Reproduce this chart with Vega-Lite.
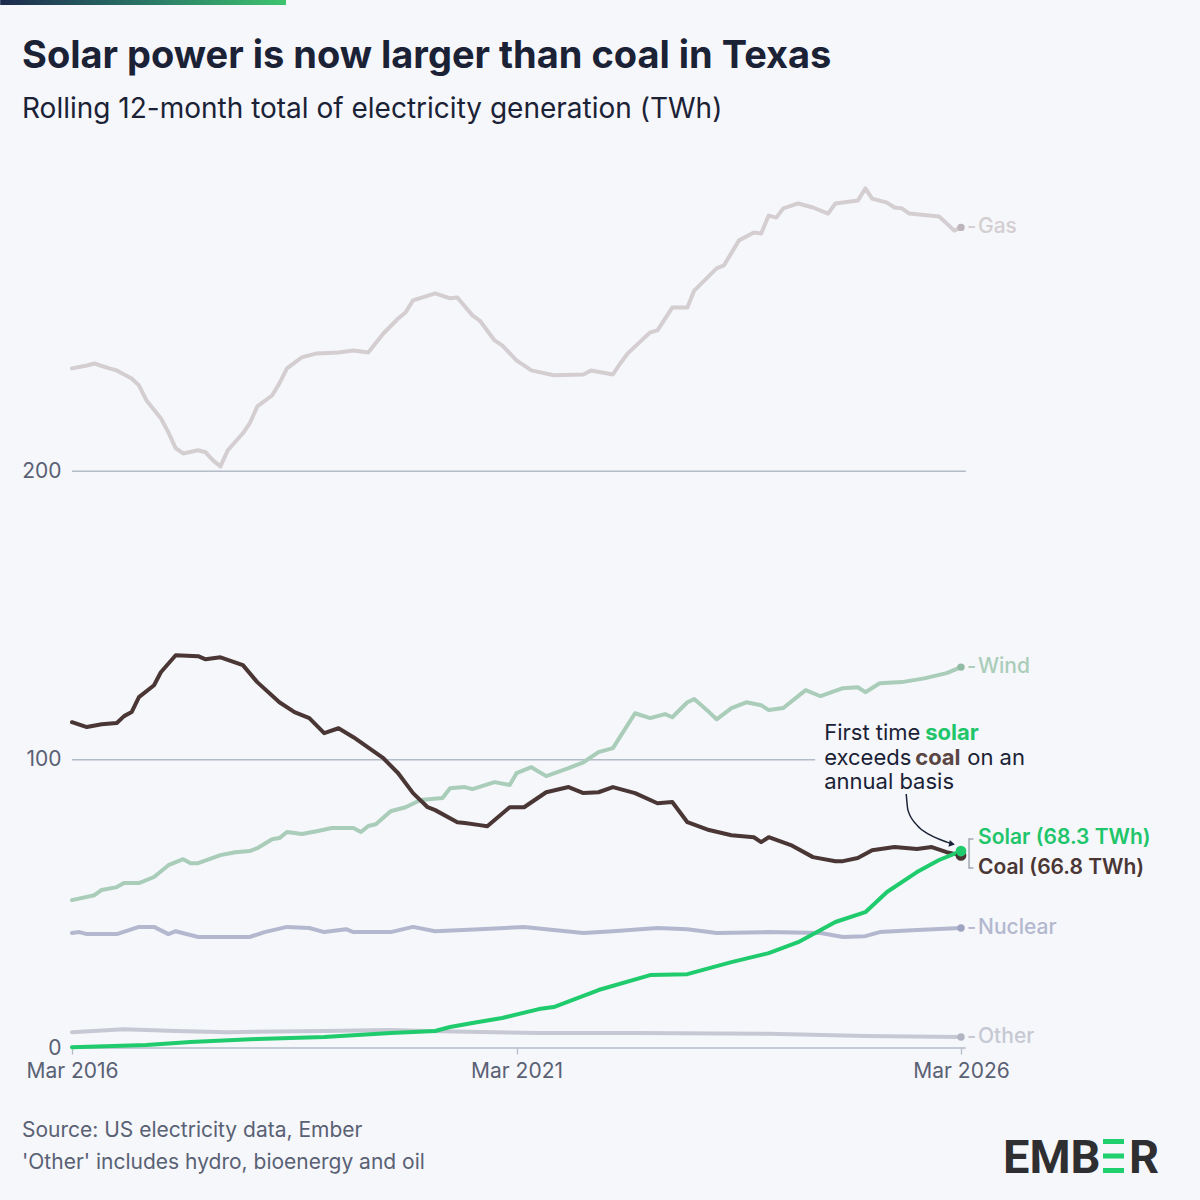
{
  "$schema": "https://vega.github.io/schema/vega-lite/v6.json",
  "width": 889,
  "height": 865,
  "autosize": {"type": "none"},
  "padding": {"left": 72, "top": 183, "right": 239, "bottom": 152},
  "background": "#f5f7fb",
  "config": {"view": {"stroke": null}, "font": "Inter"},
  "datasets": {
    "gen": [
      {"s": "Gas", "d": "2016-03-01", "v": 235.7}, {"s": "Gas", "d": "2016-05-01", "v": 236.7}, {"s": "Gas", "d": "2016-06-01", "v": 237.4},
      {"s": "Gas", "d": "2016-08-01", "v": 235.7}, {"s": "Gas", "d": "2016-09-01", "v": 235.0}, {"s": "Gas", "d": "2016-11-01", "v": 232.2},
      {"s": "Gas", "d": "2016-12-01", "v": 229.8}, {"s": "Gas", "d": "2017-01-01", "v": 224.6}, {"s": "Gas", "d": "2017-03-01", "v": 218.4},
      {"s": "Gas", "d": "2017-04-01", "v": 213.5}, {"s": "Gas", "d": "2017-05-01", "v": 208.0}, {"s": "Gas", "d": "2017-06-01", "v": 206.2},
      {"s": "Gas", "d": "2017-08-01", "v": 207.3}, {"s": "Gas", "d": "2017-09-01", "v": 206.6}, {"s": "Gas", "d": "2017-10-01", "v": 203.8},
      {"s": "Gas", "d": "2017-11-01", "v": 201.7}, {"s": "Gas", "d": "2017-12-01", "v": 207.3}, {"s": "Gas", "d": "2018-02-01", "v": 213.2},
      {"s": "Gas", "d": "2018-03-01", "v": 216.6}, {"s": "Gas", "d": "2018-04-01", "v": 222.5}, {"s": "Gas", "d": "2018-06-01", "v": 226.3},
      {"s": "Gas", "d": "2018-07-01", "v": 230.5}, {"s": "Gas", "d": "2018-08-01", "v": 235.7}, {"s": "Gas", "d": "2018-10-01", "v": 239.5},
      {"s": "Gas", "d": "2018-12-01", "v": 240.9}, {"s": "Gas", "d": "2019-03-01", "v": 241.2}, {"s": "Gas", "d": "2019-05-01", "v": 241.9},
      {"s": "Gas", "d": "2019-07-01", "v": 241.2}, {"s": "Gas", "d": "2019-09-01", "v": 247.8}, {"s": "Gas", "d": "2019-11-01", "v": 253.0},
      {"s": "Gas", "d": "2019-12-01", "v": 255.1}, {"s": "Gas", "d": "2020-01-01", "v": 259.3}, {"s": "Gas", "d": "2020-04-01", "v": 261.7},
      {"s": "Gas", "d": "2020-06-01", "v": 260.0}, {"s": "Gas", "d": "2020-07-01", "v": 260.3}, {"s": "Gas", "d": "2020-09-01", "v": 254.1},
      {"s": "Gas", "d": "2020-10-01", "v": 252.3}, {"s": "Gas", "d": "2020-12-01", "v": 245.4}, {"s": "Gas", "d": "2021-01-01", "v": 243.7},
      {"s": "Gas", "d": "2021-03-01", "v": 238.5}, {"s": "Gas", "d": "2021-05-01", "v": 235.0}, {"s": "Gas", "d": "2021-08-01", "v": 233.3},
      {"s": "Gas", "d": "2021-12-01", "v": 233.6}, {"s": "Gas", "d": "2022-01-01", "v": 235.0}, {"s": "Gas", "d": "2022-04-01", "v": 233.6},
      {"s": "Gas", "d": "2022-05-01", "v": 237.4}, {"s": "Gas", "d": "2022-06-01", "v": 240.9}, {"s": "Gas", "d": "2022-09-01", "v": 248.2},
      {"s": "Gas", "d": "2022-10-01", "v": 248.9}, {"s": "Gas", "d": "2022-12-01", "v": 256.8}, {"s": "Gas", "d": "2023-02-01", "v": 256.8},
      {"s": "Gas", "d": "2023-03-01", "v": 262.7}, {"s": "Gas", "d": "2023-06-01", "v": 270.4}, {"s": "Gas", "d": "2023-07-01", "v": 271.4},
      {"s": "Gas", "d": "2023-09-01", "v": 280.1}, {"s": "Gas", "d": "2023-11-01", "v": 282.8}, {"s": "Gas", "d": "2023-12-01", "v": 282.5},
      {"s": "Gas", "d": "2024-01-01", "v": 288.7}, {"s": "Gas", "d": "2024-02-01", "v": 288.0}, {"s": "Gas", "d": "2024-03-01", "v": 291.2},
      {"s": "Gas", "d": "2024-05-01", "v": 292.9}, {"s": "Gas", "d": "2024-07-01", "v": 291.5}, {"s": "Gas", "d": "2024-09-01", "v": 289.4},
      {"s": "Gas", "d": "2024-10-01", "v": 292.9}, {"s": "Gas", "d": "2025-01-01", "v": 293.9}, {"s": "Gas", "d": "2025-02-01", "v": 298.1},
      {"s": "Gas", "d": "2025-03-01", "v": 294.6}, {"s": "Gas", "d": "2025-05-01", "v": 293.2}, {"s": "Gas", "d": "2025-06-01", "v": 291.5},
      {"s": "Gas", "d": "2025-07-01", "v": 291.2}, {"s": "Gas", "d": "2025-08-01", "v": 289.4}, {"s": "Gas", "d": "2025-12-01", "v": 288.4},
      {"s": "Gas", "d": "2026-01-01", "v": 286.0}, {"s": "Gas", "d": "2026-02-01", "v": 283.5}, {"s": "Gas", "d": "2026-03-01", "v": 284.6},

      {"s": "Wind", "d": "2016-03-01", "v": 51.3}, {"s": "Wind", "d": "2016-06-01", "v": 53.0}, {"s": "Wind", "d": "2016-07-01", "v": 54.8},
      {"s": "Wind", "d": "2016-09-01", "v": 55.8}, {"s": "Wind", "d": "2016-10-01", "v": 57.2}, {"s": "Wind", "d": "2016-12-01", "v": 57.2},
      {"s": "Wind", "d": "2017-02-01", "v": 59.3}, {"s": "Wind", "d": "2017-04-01", "v": 63.4}, {"s": "Wind", "d": "2017-06-01", "v": 65.5},
      {"s": "Wind", "d": "2017-07-01", "v": 64.1}, {"s": "Wind", "d": "2017-08-01", "v": 64.1}, {"s": "Wind", "d": "2017-11-01", "v": 66.9},
      {"s": "Wind", "d": "2018-01-01", "v": 67.9}, {"s": "Wind", "d": "2018-03-01", "v": 68.3}, {"s": "Wind", "d": "2018-04-01", "v": 69.3},
      {"s": "Wind", "d": "2018-06-01", "v": 72.4}, {"s": "Wind", "d": "2018-07-01", "v": 72.8}, {"s": "Wind", "d": "2018-08-01", "v": 74.9},
      {"s": "Wind", "d": "2018-10-01", "v": 74.2}, {"s": "Wind", "d": "2018-12-01", "v": 75.2}, {"s": "Wind", "d": "2019-02-01", "v": 76.3},
      {"s": "Wind", "d": "2019-05-01", "v": 76.3}, {"s": "Wind", "d": "2019-06-01", "v": 74.9}, {"s": "Wind", "d": "2019-07-01", "v": 77.0},
      {"s": "Wind", "d": "2019-08-01", "v": 77.6}, {"s": "Wind", "d": "2019-10-01", "v": 82.1}, {"s": "Wind", "d": "2019-12-01", "v": 83.5},
      {"s": "Wind", "d": "2020-02-01", "v": 86.0}, {"s": "Wind", "d": "2020-05-01", "v": 86.7}, {"s": "Wind", "d": "2020-06-01", "v": 90.1},
      {"s": "Wind", "d": "2020-08-01", "v": 90.5}, {"s": "Wind", "d": "2020-09-01", "v": 89.8}, {"s": "Wind", "d": "2020-12-01", "v": 92.2},
      {"s": "Wind", "d": "2021-02-01", "v": 91.2}, {"s": "Wind", "d": "2021-03-01", "v": 95.3}, {"s": "Wind", "d": "2021-05-01", "v": 97.4},
      {"s": "Wind", "d": "2021-07-01", "v": 94.3}, {"s": "Wind", "d": "2021-10-01", "v": 97.1}, {"s": "Wind", "d": "2021-12-01", "v": 99.1},
      {"s": "Wind", "d": "2022-02-01", "v": 102.6}, {"s": "Wind", "d": "2022-04-01", "v": 104.0}, {"s": "Wind", "d": "2022-07-01", "v": 116.1},
      {"s": "Wind", "d": "2022-09-01", "v": 114.4}, {"s": "Wind", "d": "2022-11-01", "v": 115.8}, {"s": "Wind", "d": "2022-12-01", "v": 114.7},
      {"s": "Wind", "d": "2023-02-01", "v": 119.9}, {"s": "Wind", "d": "2023-03-01", "v": 121.0}, {"s": "Wind", "d": "2023-05-01", "v": 116.5},
      {"s": "Wind", "d": "2023-06-01", "v": 114.0}, {"s": "Wind", "d": "2023-08-01", "v": 117.9}, {"s": "Wind", "d": "2023-10-01", "v": 119.9},
      {"s": "Wind", "d": "2023-12-01", "v": 118.9}, {"s": "Wind", "d": "2024-01-01", "v": 117.2}, {"s": "Wind", "d": "2024-03-01", "v": 117.9},
      {"s": "Wind", "d": "2024-06-01", "v": 124.1}, {"s": "Wind", "d": "2024-08-01", "v": 122.0}, {"s": "Wind", "d": "2024-11-01", "v": 124.8},
      {"s": "Wind", "d": "2025-01-01", "v": 125.1}, {"s": "Wind", "d": "2025-02-01", "v": 123.4}, {"s": "Wind", "d": "2025-04-01", "v": 126.5},
      {"s": "Wind", "d": "2025-07-01", "v": 126.9}, {"s": "Wind", "d": "2025-10-01", "v": 128.2}, {"s": "Wind", "d": "2026-01-01", "v": 130.0},
      {"s": "Wind", "d": "2026-03-01", "v": 132.1},

      {"s": "Nuclear", "d": "2016-03-01", "v": 39.9}, {"s": "Nuclear", "d": "2016-04-01", "v": 40.2}, {"s": "Nuclear", "d": "2016-05-01", "v": 39.5},
      {"s": "Nuclear", "d": "2016-09-01", "v": 39.5}, {"s": "Nuclear", "d": "2016-12-01", "v": 42.0}, {"s": "Nuclear", "d": "2017-02-01", "v": 42.0},
      {"s": "Nuclear", "d": "2017-04-01", "v": 39.5}, {"s": "Nuclear", "d": "2017-05-01", "v": 40.5}, {"s": "Nuclear", "d": "2017-08-01", "v": 38.5},
      {"s": "Nuclear", "d": "2018-03-01", "v": 38.5}, {"s": "Nuclear", "d": "2018-05-01", "v": 40.2}, {"s": "Nuclear", "d": "2018-08-01", "v": 42.0},
      {"s": "Nuclear", "d": "2018-11-01", "v": 41.6}, {"s": "Nuclear", "d": "2019-01-01", "v": 40.2}, {"s": "Nuclear", "d": "2019-04-01", "v": 41.2},
      {"s": "Nuclear", "d": "2019-05-01", "v": 40.2}, {"s": "Nuclear", "d": "2019-10-01", "v": 40.2}, {"s": "Nuclear", "d": "2020-01-01", "v": 42.0},
      {"s": "Nuclear", "d": "2020-04-01", "v": 40.5}, {"s": "Nuclear", "d": "2020-10-01", "v": 41.2}, {"s": "Nuclear", "d": "2021-04-01", "v": 42.0},
      {"s": "Nuclear", "d": "2021-07-01", "v": 41.2}, {"s": "Nuclear", "d": "2021-12-01", "v": 39.9}, {"s": "Nuclear", "d": "2022-04-01", "v": 40.5},
      {"s": "Nuclear", "d": "2022-10-01", "v": 41.6}, {"s": "Nuclear", "d": "2023-02-01", "v": 41.2}, {"s": "Nuclear", "d": "2023-06-01", "v": 39.9},
      {"s": "Nuclear", "d": "2024-01-01", "v": 40.2}, {"s": "Nuclear", "d": "2024-08-01", "v": 39.9}, {"s": "Nuclear", "d": "2024-11-01", "v": 38.5},
      {"s": "Nuclear", "d": "2025-02-01", "v": 38.8}, {"s": "Nuclear", "d": "2025-04-01", "v": 40.2}, {"s": "Nuclear", "d": "2025-09-01", "v": 40.9},
      {"s": "Nuclear", "d": "2026-03-01", "v": 41.6},

      {"s": "Other", "d": "2016-03-01", "v": 5.5}, {"s": "Other", "d": "2016-10-01", "v": 6.5}, {"s": "Other", "d": "2017-05-01", "v": 5.9},
      {"s": "Other", "d": "2017-12-01", "v": 5.5}, {"s": "Other", "d": "2019-01-01", "v": 5.9}, {"s": "Other", "d": "2019-10-01", "v": 6.2},
      {"s": "Other", "d": "2020-03-01", "v": 5.9}, {"s": "Other", "d": "2020-12-01", "v": 5.5}, {"s": "Other", "d": "2021-06-01", "v": 5.2},
      {"s": "Other", "d": "2022-07-01", "v": 5.2}, {"s": "Other", "d": "2024-01-01", "v": 4.9}, {"s": "Other", "d": "2025-02-01", "v": 4.2},
      {"s": "Other", "d": "2026-03-01", "v": 3.8},

      {"s": "Coal", "d": "2016-03-01", "v": 113.0}, {"s": "Coal", "d": "2016-05-01", "v": 111.3}, {"s": "Coal", "d": "2016-07-01", "v": 112.3},
      {"s": "Coal", "d": "2016-09-01", "v": 112.7}, {"s": "Coal", "d": "2016-10-01", "v": 115.1}, {"s": "Coal", "d": "2016-11-01", "v": 116.5},
      {"s": "Coal", "d": "2016-12-01", "v": 121.7}, {"s": "Coal", "d": "2017-02-01", "v": 125.8}, {"s": "Coal", "d": "2017-03-01", "v": 130.3},
      {"s": "Coal", "d": "2017-05-01", "v": 136.2}, {"s": "Coal", "d": "2017-08-01", "v": 135.9}, {"s": "Coal", "d": "2017-09-01", "v": 134.8},
      {"s": "Coal", "d": "2017-11-01", "v": 135.5}, {"s": "Coal", "d": "2018-02-01", "v": 132.8}, {"s": "Coal", "d": "2018-04-01", "v": 126.9},
      {"s": "Coal", "d": "2018-07-01", "v": 119.9}, {"s": "Coal", "d": "2018-09-01", "v": 116.5}, {"s": "Coal", "d": "2018-11-01", "v": 114.4},
      {"s": "Coal", "d": "2019-01-01", "v": 109.2}, {"s": "Coal", "d": "2019-03-01", "v": 110.9}, {"s": "Coal", "d": "2019-05-01", "v": 107.8},
      {"s": "Coal", "d": "2019-09-01", "v": 100.5}, {"s": "Coal", "d": "2019-11-01", "v": 95.3}, {"s": "Coal", "d": "2020-01-01", "v": 88.4},
      {"s": "Coal", "d": "2020-03-01", "v": 83.5}, {"s": "Coal", "d": "2020-04-01", "v": 82.5}, {"s": "Coal", "d": "2020-07-01", "v": 78.3},
      {"s": "Coal", "d": "2020-08-01", "v": 78.0}, {"s": "Coal", "d": "2020-10-01", "v": 77.3}, {"s": "Coal", "d": "2020-11-01", "v": 76.9},
      {"s": "Coal", "d": "2021-02-01", "v": 83.5}, {"s": "Coal", "d": "2021-04-01", "v": 83.5}, {"s": "Coal", "d": "2021-07-01", "v": 88.7},
      {"s": "Coal", "d": "2021-10-01", "v": 90.5}, {"s": "Coal", "d": "2021-12-01", "v": 88.4}, {"s": "Coal", "d": "2022-02-01", "v": 88.7},
      {"s": "Coal", "d": "2022-04-01", "v": 90.5}, {"s": "Coal", "d": "2022-07-01", "v": 88.4}, {"s": "Coal", "d": "2022-10-01", "v": 84.9},
      {"s": "Coal", "d": "2022-12-01", "v": 85.3}, {"s": "Coal", "d": "2023-02-01", "v": 78.3}, {"s": "Coal", "d": "2023-05-01", "v": 75.6},
      {"s": "Coal", "d": "2023-08-01", "v": 73.8}, {"s": "Coal", "d": "2023-11-01", "v": 73.1}, {"s": "Coal", "d": "2023-12-01", "v": 71.4},
      {"s": "Coal", "d": "2024-01-01", "v": 73.1}, {"s": "Coal", "d": "2024-04-01", "v": 70.4}, {"s": "Coal", "d": "2024-07-01", "v": 66.2},
      {"s": "Coal", "d": "2024-10-01", "v": 64.8}, {"s": "Coal", "d": "2024-11-01", "v": 64.8}, {"s": "Coal", "d": "2025-01-01", "v": 65.9},
      {"s": "Coal", "d": "2025-03-01", "v": 68.6}, {"s": "Coal", "d": "2025-06-01", "v": 69.7}, {"s": "Coal", "d": "2025-09-01", "v": 69.0},
      {"s": "Coal", "d": "2025-11-01", "v": 69.7}, {"s": "Coal", "d": "2026-01-01", "v": 67.9}, {"s": "Coal", "d": "2026-03-01", "v": 66.8},

      {"s": "Solar", "d": "2016-03-01", "v": 0.3}, {"s": "Solar", "d": "2017-01-01", "v": 1.0}, {"s": "Solar", "d": "2017-07-01", "v": 2.1},
      {"s": "Solar", "d": "2018-04-01", "v": 3.1}, {"s": "Solar", "d": "2019-01-01", "v": 3.8}, {"s": "Solar", "d": "2019-10-01", "v": 5.2},
      {"s": "Solar", "d": "2020-04-01", "v": 5.9}, {"s": "Solar", "d": "2020-06-01", "v": 7.3}, {"s": "Solar", "d": "2020-09-01", "v": 8.7},
      {"s": "Solar", "d": "2021-01-01", "v": 10.4}, {"s": "Solar", "d": "2021-06-01", "v": 13.5}, {"s": "Solar", "d": "2021-08-01", "v": 14.2},
      {"s": "Solar", "d": "2022-02-01", "v": 20.1}, {"s": "Solar", "d": "2022-09-01", "v": 25.3}, {"s": "Solar", "d": "2023-02-01", "v": 25.6},
      {"s": "Solar", "d": "2023-08-01", "v": 29.8}, {"s": "Solar", "d": "2024-01-01", "v": 32.9}, {"s": "Solar", "d": "2024-05-01", "v": 36.7},
      {"s": "Solar", "d": "2024-10-01", "v": 43.7}, {"s": "Solar", "d": "2025-02-01", "v": 47.1}, {"s": "Solar", "d": "2025-05-01", "v": 54.1},
      {"s": "Solar", "d": "2025-09-01", "v": 61.0}, {"s": "Solar", "d": "2025-12-01", "v": 65.2}, {"s": "Solar", "d": "2026-03-01", "v": 68.3}
    ],
    "arrow": [
      {"i": 0, "d": "2025-07-19", "v": 88.1},
      {"i": 1, "d": "2025-07-26", "v": 82.5},
      {"i": 2, "d": "2025-09-01", "v": 77.3},
      {"i": 3, "d": "2025-10-25", "v": 73.9},
      {"i": 4, "d": "2026-01-02", "v": 71.4},
      {"i": 5, "d": "2026-01-19", "v": 70.9}
    ],
    "bracket": [
      {"i": 0, "d": "2026-04-21", "v": 72.5},
      {"i": 1, "d": "2026-04-03", "v": 72.5},
      {"i": 2, "d": "2026-04-03", "v": 62.4},
      {"i": 3, "d": "2026-04-21", "v": 62.4}
    ],
    "grid": [{"v": 0}, {"v": 200}]
  },
  "layer": [
    {
      "data": {"name": "grid"},
      "mark": {"type": "rule", "color": "#b4bcc8", "strokeWidth": 1.5},
      "encoding": {
        "x": {
          "datum": {"year": 2016, "month": 3, "date": 1, "utc": true},
          "type": "temporal",
          "scale": {
            "type": "utc",
            "domain": [{"year": 2016, "month": 3, "date": 1, "utc": true}, {"year": 2026, "month": 3, "date": 1, "utc": true}]
          },
          "axis": {
            "title": null,
            "values": [
              {"year": 2016, "month": 3, "date": 1, "utc": true},
              {"year": 2021, "month": 3, "date": 1, "utc": true},
              {"year": 2026, "month": 3, "date": 1, "utc": true}
            ],
            "format": "%b %Y",
            "grid": false,
            "domain": false,
            "ticks": true,
            "tickSize": 6,
            "tickWidth": 1.3,
            "tickColor": "#b4bcc8",
            "labelFont": "Inter",
            "labelFontSize": 21,
            "labelColor": "#5a6174",
            "labelPadding": 6,
            "labelFlush": false
          }
        },
        "x2": {"datum": {"year": 2026, "month": 3, "date": 21, "utc": true}},
        "y": {
          "field": "v",
          "type": "quantitative",
          "scale": {"domain": [0, 300], "nice": false},
          "axis": {
            "title": null,
            "values": [0, 100, 200],
            "grid": false,
            "domain": false,
            "ticks": false,
            "labelFont": "Inter",
            "labelFontSize": 21,
            "labelColor": "#5a6174",
            "labelPadding": 11
          }
        }
      }
    },
    {
      "data": {"values": [{}]},
      "mark": {"type": "rule", "color": "#b4bcc8", "strokeWidth": 1.5},
      "encoding": {
        "x": {"datum": {"year": 2016, "month": 3, "date": 1, "utc": true}, "type": "temporal"},
        "x2": {"datum": {"year": 2024, "month": 7, "date": 10, "utc": true}},
        "y": {"datum": 100, "type": "quantitative"}
      }
    },
    {
      "data": {"values": [{}]},
      "mark": {
        "type": "rect",
        "color": {
          "gradient": "linear", "x1": 0, "y1": 0, "x2": 1, "y2": 0,
          "stops": [{"offset": 0, "color": "#1c2a4e"}, {"offset": 0.5, "color": "#2a7566"}, {"offset": 1, "color": "#3dc46e"}]
        }
      },
      "encoding": {
        "x": {"datum": {"year": 2015, "month": 5, "date": 11, "utc": true}, "type": "temporal"},
        "x2": {"datum": {"year": 2018, "month": 7, "date": 28, "utc": true}},
        "y": {"datum": 363.5, "type": "quantitative"},
        "y2": {"datum": 361.7}
      }
    },
    {
      "data": {"values": [{}]},
      "mark": {"type": "text", "text": "Solar power is now larger than coal in Texas", "align": "left", "baseline": "alphabetic", "dx": -50, "dy": -115, "fontSize": 38, "font": "Inter", "fontWeight": 700, "color": "#1b2236"},
      "encoding": {
        "x": {"datum": {"year": 2016, "month": 3, "date": 1, "utc": true}, "type": "temporal"},
        "y": {"datum": 300, "type": "quantitative"}
      }
    },
    {
      "data": {"values": [{}]},
      "mark": {"type": "text", "text": "Rolling 12-month total of electricity generation (TWh)", "align": "left", "baseline": "alphabetic", "dx": -50, "dy": -65, "fontSize": 28, "font": "Inter", "color": "#1b2236"},
      "encoding": {
        "x": {"datum": {"year": 2016, "month": 3, "date": 1, "utc": true}, "type": "temporal"},
        "y": {"datum": 300, "type": "quantitative"}
      }
    },
    {
      "data": {"name": "gen"},
      "transform": [{"filter": "indexof(['Gas','Wind','Nuclear','Other'], datum.s) >= 0"}],
      "mark": {"type": "line", "strokeWidth": 4, "strokeJoin": "round", "strokeCap": "round"},
      "encoding": {
        "x": {"field": "d", "type": "temporal"},
        "y": {"field": "v", "type": "quantitative"},
        "color": {
          "field": "s",
          "type": "nominal",
          "legend": null,
          "scale": {
            "domain": ["Gas", "Wind", "Nuclear", "Other", "Coal", "Solar"],
            "range": ["#d4ced1", "#a9cdb9", "#b3b8cf", "#c6c9d3", "#4a3634", "#1fcb6c"]
          }
        }
      }
    },
    {
      "data": {"name": "gen"},
      "transform": [{"filter": "datum.s == 'Coal'"}],
      "mark": {"type": "line", "strokeWidth": 4, "strokeJoin": "round", "strokeCap": "round"},
      "encoding": {
        "x": {"field": "d", "type": "temporal"},
        "y": {"field": "v", "type": "quantitative"},
        "color": {"field": "s", "type": "nominal", "legend": null}
      }
    },
    {
      "data": {"name": "gen"},
      "transform": [{"filter": "datum.s == 'Solar'"}],
      "mark": {"type": "line", "strokeWidth": 4, "strokeJoin": "round", "strokeCap": "round"},
      "encoding": {
        "x": {"field": "d", "type": "temporal"},
        "y": {"field": "v", "type": "quantitative"},
        "color": {"field": "s", "type": "nominal", "legend": null}
      }
    },
    {
      "data": {"name": "gen"},
      "transform": [
        {"filter": "utcyear(datum.d) == 2026 && utcmonth(datum.d) == 2"},
        {"filter": "indexof(['Gas','Wind','Nuclear','Other'], datum.s) >= 0"}
      ],
      "mark": {"type": "point", "filled": true, "size": 55, "opacity": 1, "strokeWidth": 0},
      "encoding": {
        "x": {"field": "d", "type": "temporal"},
        "y": {"field": "v", "type": "quantitative"},
        "fill": {
          "field": "s",
          "type": "nominal",
          "legend": null,
          "scale": {
            "domain": ["Gas", "Wind", "Nuclear", "Other", "Coal", "Solar"],
            "range": ["#bdb5b9", "#91bba4", "#9ea5c1", "#b2b5c1", "#4a3634", "#1fcb6c"]
          }
        }
      }
    },
    {
      "data": {"name": "gen"},
      "transform": [
        {"filter": "utcyear(datum.d) == 2026 && utcmonth(datum.d) == 2"},
        {"filter": "indexof(['Gas','Wind','Nuclear','Other'], datum.s) >= 0"}
      ],
      "mark": {"type": "text", "text": "-", "align": "left", "baseline": "middle", "dx": 6, "fontSize": 20, "font": "Inter", "fontWeight": 500},
      "encoding": {
        "x": {"field": "d", "type": "temporal"},
        "y": {"field": "v", "type": "quantitative"},
        "color": {"field": "s", "type": "nominal", "legend": null}
      }
    },
    {
      "data": {"name": "gen"},
      "transform": [
        {"filter": "utcyear(datum.d) == 2026 && utcmonth(datum.d) == 2"},
        {"filter": "indexof(['Gas','Wind','Nuclear','Other'], datum.s) >= 0"}
      ],
      "mark": {"type": "text", "align": "left", "baseline": "middle", "dx": 17, "fontSize": 21, "font": "Inter", "fontWeight": 500},
      "encoding": {
        "x": {"field": "d", "type": "temporal"},
        "y": {"field": "v", "type": "quantitative"},
        "text": {"field": "s"},
        "color": {"field": "s", "type": "nominal", "legend": null}
      }
    },
    {
      "data": {"name": "gen"},
      "transform": [
        {"filter": "utcyear(datum.d) == 2026 && utcmonth(datum.d) == 2"},
        {"filter": "datum.s == 'Coal' || datum.s == 'Solar'"}
      ],
      "mark": {"type": "point", "filled": true, "size": 115, "opacity": 1, "strokeWidth": 0},
      "encoding": {
        "x": {"field": "d", "type": "temporal"},
        "y": {"field": "v", "type": "quantitative"},
        "fill": {"field": "s", "type": "nominal", "legend": null}
      }
    },
    {
      "data": {"name": "bracket"},
      "mark": {"type": "line", "color": "#a2a7b2", "strokeWidth": 1.5},
      "encoding": {
        "x": {"field": "d", "type": "temporal"},
        "y": {"field": "v", "type": "quantitative"},
        "order": {"field": "i"}
      }
    },
    {
      "data": {"values": [{}]},
      "mark": {"type": "text", "text": "Solar (68.3 TWh)", "align": "left", "baseline": "middle", "dx": 17, "fontSize": 21, "font": "Inter", "fontWeight": 600, "color": "#1fc56a"},
      "encoding": {
        "x": {"datum": {"year": 2026, "month": 3, "date": 1, "utc": true}, "type": "temporal"},
        "y": {"datum": 72.8, "type": "quantitative"}
      }
    },
    {
      "data": {"values": [{}]},
      "mark": {"type": "text", "text": "Coal (66.8 TWh)", "align": "left", "baseline": "middle", "dx": 17, "fontSize": 21, "font": "Inter", "fontWeight": 600, "color": "#4a3634"},
      "encoding": {
        "x": {"datum": {"year": 2026, "month": 3, "date": 1, "utc": true}, "type": "temporal"},
        "y": {"datum": 62.4, "type": "quantitative"}
      }
    },
    {
      "data": {"values": [{}]},
      "mark": {"type": "text", "text": "First time", "align": "left", "baseline": "middle", "fontSize": 22, "font": "Inter", "color": "#1b2236"},
      "encoding": {
        "x": {"datum": {"year": 2024, "month": 8, "date": 16, "utc": true}, "type": "temporal"},
        "y": {"datum": 109.2, "type": "quantitative"}
      }
    },
    {
      "data": {"values": [{}]},
      "mark": {"type": "text", "text": "solar", "align": "left", "baseline": "middle", "dx": 101, "fontSize": 22, "font": "Inter", "fontWeight": 700, "color": "#1fc56a"},
      "encoding": {
        "x": {"datum": {"year": 2024, "month": 8, "date": 16, "utc": true}, "type": "temporal"},
        "y": {"datum": 109.2, "type": "quantitative"}
      }
    },
    {
      "data": {"values": [{}]},
      "mark": {"type": "text", "text": "exceeds", "align": "left", "baseline": "middle", "fontSize": 22, "font": "Inter", "color": "#1b2236"},
      "encoding": {
        "x": {"datum": {"year": 2024, "month": 8, "date": 16, "utc": true}, "type": "temporal"},
        "y": {"datum": 100.6, "type": "quantitative"}
      }
    },
    {
      "data": {"values": [{}]},
      "mark": {"type": "text", "text": "coal", "align": "left", "baseline": "middle", "dx": 91, "fontSize": 22, "font": "Inter", "fontWeight": 700, "color": "#5a4642"},
      "encoding": {
        "x": {"datum": {"year": 2024, "month": 8, "date": 16, "utc": true}, "type": "temporal"},
        "y": {"datum": 100.6, "type": "quantitative"}
      }
    },
    {
      "data": {"values": [{}]},
      "mark": {"type": "text", "text": "on an", "align": "left", "baseline": "middle", "dx": 143, "fontSize": 22, "font": "Inter", "color": "#1b2236"},
      "encoding": {
        "x": {"datum": {"year": 2024, "month": 8, "date": 16, "utc": true}, "type": "temporal"},
        "y": {"datum": 100.6, "type": "quantitative"}
      }
    },
    {
      "data": {"values": [{}]},
      "mark": {"type": "text", "text": "annual basis", "align": "left", "baseline": "middle", "fontSize": 22, "font": "Inter", "color": "#1b2236"},
      "encoding": {
        "x": {"datum": {"year": 2024, "month": 8, "date": 16, "utc": true}, "type": "temporal"},
        "y": {"datum": 92.2, "type": "quantitative"}
      }
    },
    {
      "data": {"name": "arrow"},
      "mark": {"type": "line", "color": "#1b2236", "strokeWidth": 1.5, "interpolate": "monotone"},
      "encoding": {
        "x": {"field": "d", "type": "temporal"},
        "y": {"field": "v", "type": "quantitative"},
        "order": {"field": "i"}
      }
    },
    {
      "data": {"values": [{}]},
      "mark": {"type": "point", "shape": "triangle-right", "filled": true, "size": 45, "angle": 12, "color": "#1b2236", "opacity": 1},
      "encoding": {
        "x": {"datum": {"year": 2026, "month": 1, "date": 23, "utc": true}, "type": "temporal"},
        "y": {"datum": 70.75, "type": "quantitative"}
      }
    },
    {
      "data": {"values": [{}]},
      "mark": {"type": "text", "text": "Source: US electricity data, Ember", "align": "left", "baseline": "middle", "dx": -50, "dy": 83, "fontSize": 21, "font": "Inter", "color": "#5a6174"},
      "encoding": {
        "x": {"datum": {"year": 2016, "month": 3, "date": 1, "utc": true}, "type": "temporal"},
        "y": {"datum": 0, "type": "quantitative"}
      }
    },
    {
      "data": {"values": [{}]},
      "mark": {"type": "text", "text": "'Other' includes hydro, bioenergy and oil", "align": "left", "baseline": "middle", "dx": -50, "dy": 115, "fontSize": 21, "font": "Inter", "color": "#5a6174"},
      "encoding": {
        "x": {"datum": {"year": 2016, "month": 3, "date": 1, "utc": true}, "type": "temporal"},
        "y": {"datum": 0, "type": "quantitative"}
      }
    },
    {
      "data": {"values": [{}]},
      "mark": {"type": "text", "text": "EMB", "align": "left", "baseline": "alphabetic", "dx": 42, "dy": 125, "fontSize": 47, "font": "Roboto", "fontWeight": 700, "color": "#2f2f31"},
      "encoding": {
        "x": {"datum": {"year": 2026, "month": 3, "date": 1, "utc": true}, "type": "temporal"},
        "y": {"datum": 0, "type": "quantitative"}
      }
    },
    {
      "data": {"values": [{}]},
      "mark": {"type": "text", "text": "R", "align": "left", "baseline": "alphabetic", "dx": 168, "dy": 125, "fontSize": 47, "font": "Roboto", "fontWeight": 700, "color": "#2f2f31"},
      "encoding": {
        "x": {"datum": {"year": 2026, "month": 3, "date": 1, "utc": true}, "type": "temporal"},
        "y": {"datum": 0, "type": "quantitative"}
      }
    },
    {
      "data": {"values": [{}]},
      "mark": {"type": "point", "shape": "M-1,-0.24H1V0.24H-1Z", "size": 441, "filled": true, "color": "#20cf6e", "opacity": 1, "strokeWidth": 0, "xOffset": 152.5, "yOffset": 93.5},
      "encoding": {
        "x": {"datum": {"year": 2026, "month": 3, "date": 1, "utc": true}, "type": "temporal"},
        "y": {"datum": 0, "type": "quantitative"}
      }
    },
    {
      "data": {"values": [{}]},
      "mark": {"type": "point", "shape": "M-1,-0.24H1V0.24H-1Z", "size": 441, "filled": true, "color": "#20cf6e", "opacity": 1, "strokeWidth": 0, "xOffset": 152.5, "yOffset": 108},
      "encoding": {
        "x": {"datum": {"year": 2026, "month": 3, "date": 1, "utc": true}, "type": "temporal"},
        "y": {"datum": 0, "type": "quantitative"}
      }
    },
    {
      "data": {"values": [{}]},
      "mark": {"type": "point", "shape": "M-1,-0.24H1V0.24H-1Z", "size": 441, "filled": true, "color": "#20cf6e", "opacity": 1, "strokeWidth": 0, "xOffset": 152.5, "yOffset": 122.5},
      "encoding": {
        "x": {"datum": {"year": 2026, "month": 3, "date": 1, "utc": true}, "type": "temporal"},
        "y": {"datum": 0, "type": "quantitative"}
      }
    }
  ]
}
